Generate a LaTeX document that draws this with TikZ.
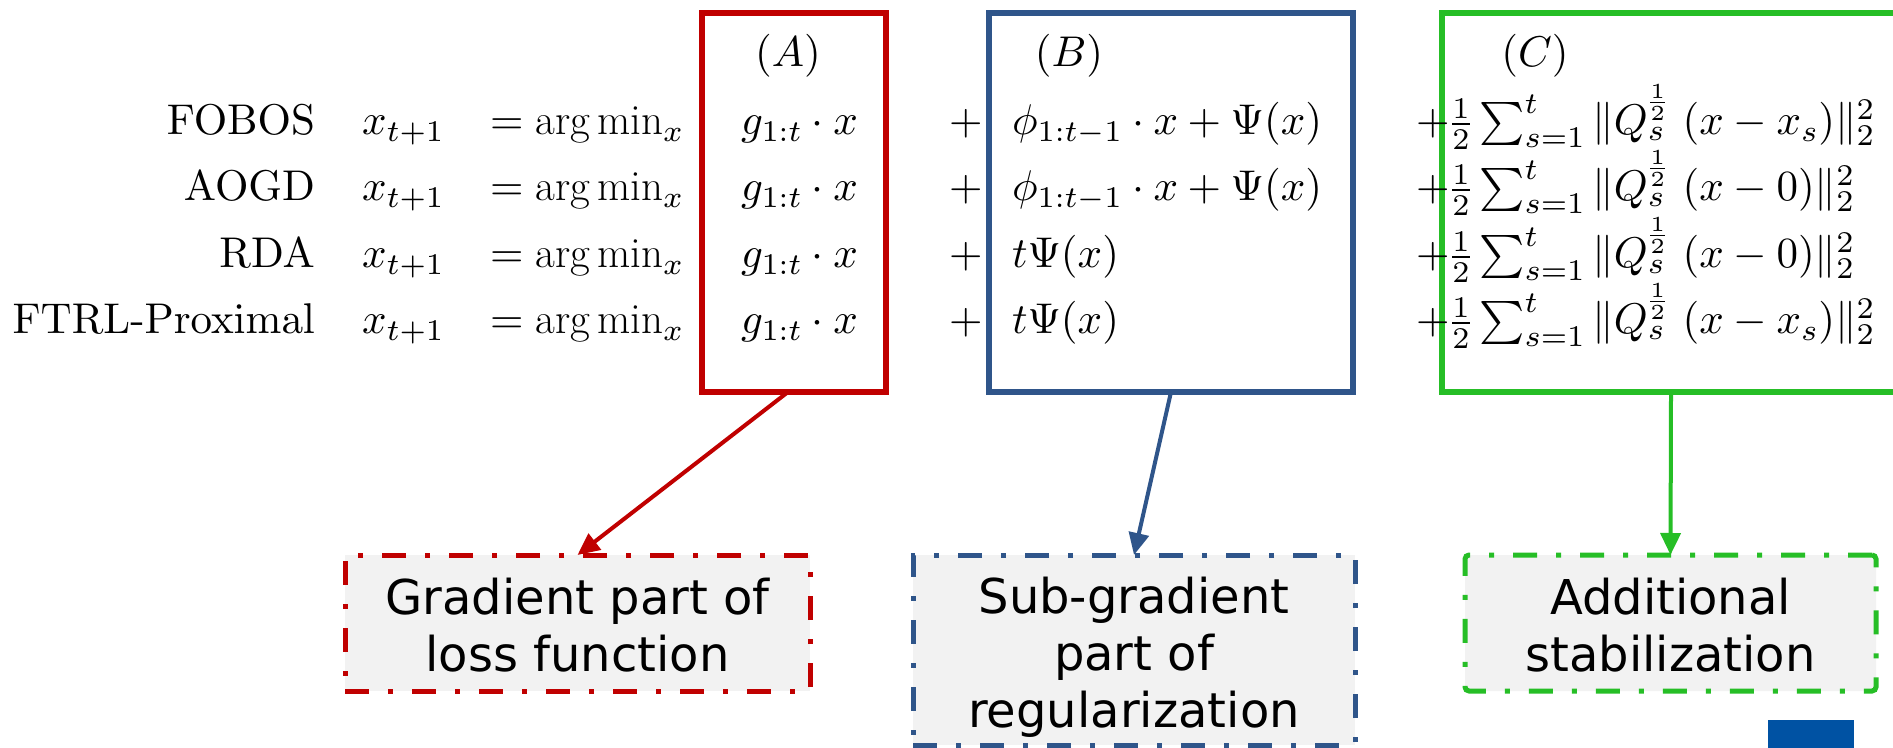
\documentclass[tikz,border=0pt]{standalone}
\usepackage{fontspec}
\newfontfamily\lblfont{DejaVu Sans}
\DeclareFontShape{OT1}{cmr}{m}{n}{<-12> cmr5 <12-18> cmr7 <18-> cmr10}{}
\DeclareFontShape{OML}{cmm}{m}{it}{<-12> cmmi5 <12-18> cmmi7 <18-> cmmi10}{\skewchar\font127}
\DeclareFontShape{OMS}{cmsy}{m}{n}{<-12> cmsy5 <12-18> cmsy7 <18-> cmsy10}{\skewchar\font48}
\DeclareFontShape{OMX}{cmex}{m}{n}{<-> cmex10}{}
\newcommand{\cmtext}{\usefont{OT1}{cmr}{m}{n}}
\newcommand{\stab}[1]{\frac{1}{2}\sum_{s=1}^{t}\|Q_s^{\frac{1}{2}}\mkern6mu(x-#1)\|_2^2}
\usetikzlibrary{arrows.meta}
\definecolor{cred}{RGB}{192,0,0}
\definecolor{cblue}{RGB}{47,85,138}
\definecolor{cgreen}{RGB}{38,190,38}
\definecolor{cfill}{RGB}{242,242,242}
\definecolor{cdark}{RGB}{0,82,163}
\begin{document}
\begin{tikzpicture}[x=0.5pt,y=-0.5pt,
  mtext/.style={inner sep=0pt, outer sep=0pt, font=\fontsize{21.5}{33}\selectfont\cmtext},
  frame/.style={draw, line width=2.7pt, inner sep=0pt, outer sep=0pt},
  callout/.style={fill=cfill, line width=2.5pt, dash pattern=on 12pt off 9.5pt on 2.5pt off 9.5pt, inner sep=0pt, outer sep=0pt},
  lbltext/.style={align=center, inner sep=0pt, font=\lblfont\fontsize{24}{28.5}\selectfont},
  link/.style={line width=2pt, -{Triangle[length=11pt,width=10pt]}}
]
\clip (0,0) rectangle (1893,748);
\useasboundingbox (0,0) rectangle (1893,748);

% top frames
\node[frame, draw=cred, line width=3pt, minimum width=92pt, minimum height=189.5pt] (boxA) at (794,202.5) {};
\node[frame, draw=cblue, minimum width=182pt, minimum height=189.5pt] (boxB) at (1171,202.5) {};
\node[frame, draw=cgreen, minimum width=229pt, minimum height=189.5pt] (boxC) at (1671,202.5) {};

% column heads
\node[mtext, anchor=base] (hA) at (788,67) {$(A)$};
\node[mtext, anchor=base] (hB) at (1069,67) {$(B)$};
\node[mtext, anchor=base] (hC) at (1535,67) {$(C)$};

% row 1
\node[mtext, anchor=base east] (lab1) at (315,135) {FOBOS};
\node[mtext, anchor=base west] (xa1) at (362,135) {$x_{t+1}$};
\node[mtext, anchor=base west] (eq1) at (490,135) {$=\arg\min_x$};
\node[mtext, anchor=base west] (gA1) at (741,135) {$g_{1:t}\cdot x$};
\node[mtext, anchor=base west] (pB1) at (949,135) {$+$};
\node[mtext, anchor=base west] (tB1) at (1012,135) {$\phi_{1:t-1}\cdot x+\Psi(x)$};
\node[mtext, anchor=base west] (pC1) at (1416,135) {$+$};
\node[mtext, anchor=base west] (tC1) at (1450,135) {$\stab{x_s}$};

% row 2
\node[mtext, anchor=base east] (lab2) at (315,201) {AOGD};
\node[mtext, anchor=base west] (xa2) at (362,201) {$x_{t+1}$};
\node[mtext, anchor=base west] (eq2) at (490,201) {$=\arg\min_x$};
\node[mtext, anchor=base west] (gA2) at (741,201) {$g_{1:t}\cdot x$};
\node[mtext, anchor=base west] (pB2) at (949,201) {$+$};
\node[mtext, anchor=base west] (tB2) at (1012,201) {$\phi_{1:t-1}\cdot x+\Psi(x)$};
\node[mtext, anchor=base west] (pC2) at (1416,201) {$+$};
\node[mtext, anchor=base west] (tC2) at (1450,201) {$\stab{0}$};

% row 3
\node[mtext, anchor=base east] (lab3) at (315,268) {RDA};
\node[mtext, anchor=base west] (xa3) at (362,268) {$x_{t+1}$};
\node[mtext, anchor=base west] (eq3) at (490,268) {$=\arg\min_x$};
\node[mtext, anchor=base west] (gA3) at (741,268) {$g_{1:t}\cdot x$};
\node[mtext, anchor=base west] (pB3) at (949,268) {$+$};
\node[mtext, anchor=base west] (tB3) at (1012,268) {$t\Psi(x)$};
\node[mtext, anchor=base west] (pC3) at (1416,268) {$+$};
\node[mtext, anchor=base west] (tC3) at (1450,268) {$\stab{0}$};

% row 4
\node[mtext, anchor=base east] (lab4) at (315,334) {FTRL-Proximal};
\node[mtext, anchor=base west] (xa4) at (362,334) {$x_{t+1}$};
\node[mtext, anchor=base west] (eq4) at (490,334) {$=\arg\min_x$};
\node[mtext, anchor=base west] (gA4) at (741,334) {$g_{1:t}\cdot x$};
\node[mtext, anchor=base west] (pB4) at (949,334) {$+$};
\node[mtext, anchor=base west] (tB4) at (1012,334) {$t\Psi(x)$};
\node[mtext, anchor=base west] (pC4) at (1416,334) {$+$};
\node[mtext, anchor=base west] (tC4) at (1450,334) {$\stab{x_s}$};

% callout boxes
\node[callout, draw=cred, minimum width=232.5pt, minimum height=68pt] (lblA) at (577.5,623) {};
\node[callout, draw=cblue, minimum width=221pt, minimum height=95pt] (lblB) at (1134,650) {};
\node[callout, draw=cgreen, rounded corners=2pt, minimum width=205.5pt, minimum height=68pt] (lblC) at (1670.5,623) {};

\node[lbltext, anchor=base] (tA) at (577.5,671) {Gradient part of\\loss function};
\node[lbltext, anchor=base] (tB) at (1134,727) {Sub-gradient\\part of\\regularization};
\node[lbltext, anchor=base] (tC) at (1670.5,671) {Additional\\stabilization};

% connectors
\draw[link, cred] ([xshift=-3pt]boxA.south) -- (lblA.north);
\draw[link, cblue] (boxB.south) -- (lblB.north);
\draw[link, cgreen] (boxC.south) -- (lblC.north);

% corner block
\fill[cdark] (1768,720) rectangle (1854,760);
\end{tikzpicture}
\end{document}
